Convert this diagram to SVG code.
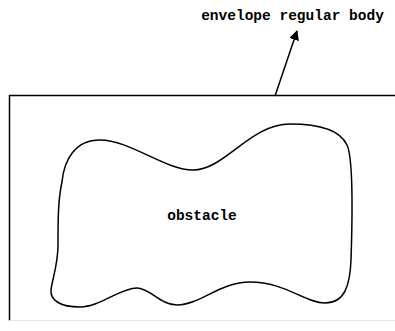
<svg xmlns="http://www.w3.org/2000/svg" width="395" height="331" viewBox="0 0 395 331">
<style>
.ln{fill:none;stroke:#000;stroke-width:1.5}
.t{font-family:"Liberation Mono",monospace;font-weight:bold;fill:#000}
</style>
<defs>
<marker id="ah" markerWidth="10" markerHeight="10" refX="9" refY="5" orient="auto" markerUnits="userSpaceOnUse">
<path d="M0,0 L10,5 L0,10 Z" fill="#000"/>
</marker>
</defs>
<rect width="395" height="331" fill="#fff"/>
<g id="envelope">
<path class="ln" d="M9.5,321 V95.5 H395"/>
<line x1="9" y1="320.5" x2="395" y2="320.5" stroke="#e6e6e6" stroke-width="1"/>
</g>
<g id="obstacle">
<path class="ln" d="M62,182 C64,160 75,140 100,140 C130,140 165,170 193,170 C225,170 250,124 290,124 C320,124 340,130 347,145 C354,160 352,230 351,260 C350,285 345,303 325,303 C305,303 285,282 250,282 C220,282 200,305 177,305 C160,305 150,288 137,288 C120,288 100,307 80,307 C60,307 50,300 51,290 C52,280 58,265 58,245 C58,220 58,200 62,182 Z"/>
<text class="t" x="202" y="220" font-size="14.5" text-anchor="middle">obstacle</text>
</g>
<g id="label">
<text class="t" x="292.5" y="20" font-size="14.5" text-anchor="middle">envelope regular body</text>
</g>
<g id="connectors">
<line class="ln" x1="275" y1="96" x2="297" y2="31" marker-end="url(#ah)"/>
</g>
</svg>
